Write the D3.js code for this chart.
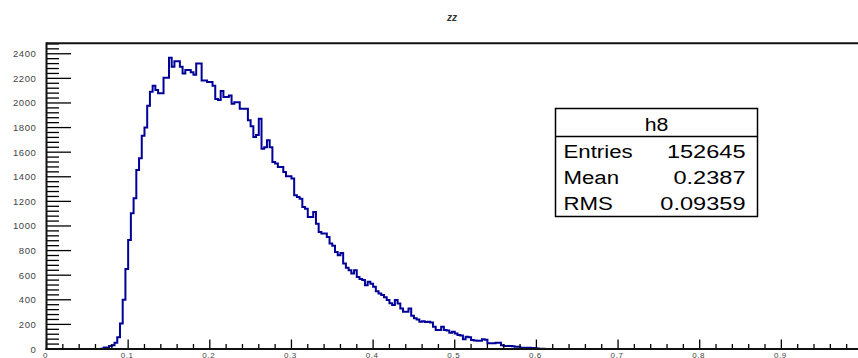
<!DOCTYPE html>
<html>
<head>
<meta charset="utf-8">
<script src="https://cdn.jsdelivr.net/npm/d3@7"></script>
<style>
html, body { margin: 0; padding: 0; background: #fff; }
svg { display: block; }
</style>
</head>
<body>
<svg id="chart" width="858" height="358"></svg>
<script>
// ---- data ----
const histTitle = "zz";
const histName = "h8";
const nBins = 300;            // bins over [0, 1]
const xMin = 0, xMax = 1;
const firstBin = 18;          // index of first listed bin (x = 0.06)
const counts = [
  0, 1, 3, 12, 12, 25, 30, 50, 95, 208,
  400, 651, 887, 1104, 1226, 1456, 1550, 1734, 1800, 1978,
  2091, 2140, 2105, 2078, 2078, 2205, 2205, 2367, 2294, 2340,
  2340, 2294, 2240, 2267, 2267, 2250, 2229, 2321, 2321, 2183,
  2183, 2170, 2170, 2140, 2033, 2025, 2097, 2048, 2048, 2060,
  1994, 2005, 2005, 1953, 1953, 1953, 1859, 1810, 1723, 1740,
  1872, 1628, 1640, 1696, 1641, 1520, 1507, 1480, 1480, 1439,
  1404, 1404, 1385, 1250, 1236, 1222, 1154, 1141, 1073, 1073,
  1114, 1019, 951, 938, 938, 911, 857, 840, 789, 762,
  780, 695, 660, 641, 613, 641, 586, 570, 560, 519,
  546, 530, 506, 470, 451, 438, 420, 398, 371, 357,
  398, 370, 330, 303, 303, 330, 270, 249, 240, 222,
  225, 220, 222, 215, 181, 154, 154, 181, 154, 150,
  132, 140, 125, 114, 110, 79, 100, 95, 73, 70,
  67, 67, 79, 75, 46, 46, 46, 50, 50, 30,
  24, 24, 24, 22, 19, 19, 11, 11, 11, 10,
  9, 8, 5, 3, 2, 1, 1, 0
];
const yMaxValue = 2485;
const yMajorTicks = [0, 200, 400, 600, 800, 1000, 1200, 1400, 1600, 1800, 2000, 2200, 2400];
const xMajorTicks = [0, 0.1, 0.2, 0.3, 0.4, 0.5, 0.6, 0.7, 0.8, 0.9];
const xTickLabels = ["0", "0.1", "0.2", "0.3", "0.4", "0.5", "0.6", "0.7", "0.8", "0.9"];
const statLabels = ["Entries", "Mean", "RMS"];
const statValues = ["152645", "0.2387", "0.09359"];

// ---- layout ----
const svg = d3.select("#chart");
const mLeft = 46.5, mRight = 863, mTop = 43.3, mBottom = 349;
const x = d3.scaleLinear().domain([xMin, xMax]).range([mLeft, mRight]);
const y = d3.scaleLinear().domain([0, yMaxValue]).range([mBottom, mTop]);
const binW = (xMax - xMin) / nBins;
const font = "'Liberation Sans', Arial, Helvetica, sans-serif";

// title
svg.append("text")
  .attr("x", 452).attr("y", 21)
  .attr("text-anchor", "middle")
  .attr("font-family", font)
  .attr("font-style", "italic")
  .attr("font-weight", "bold")
  .attr("font-size", 10)
  .attr("fill", "#333")
  .text(histTitle);

// histogram outline
const pts = counts.map((c, i) => ({ x: xMin + (firstBin + i) * binW, y: c }));
pts.push({ x: xMin + (firstBin + counts.length) * binW, y: counts[counts.length - 1] });
const line = d3.line().x(d => x(d.x)).y(d => y(d.y)).curve(d3.curveStepAfter);
svg.append("path")
  .attr("d", line(pts))
  .attr("fill", "none")
  .attr("stroke", "#000099")
  .attr("stroke-width", 2);

// y minor + major ticks
const yMinor = d3.range(0, yMaxValue + 1, 40);
svg.append("g").selectAll("line").data(yMinor).join("line")
  .attr("x1", mLeft).attr("x2", d => mLeft + (d % 200 === 0 ? 24.5 : 12.5))
  .attr("y1", d => y(d)).attr("y2", d => y(d))
  .attr("stroke", "#000").attr("stroke-width", 1.3);

svg.append("g").selectAll("text").data(yMajorTicks).join("text")
  .attr("x", 36.5).attr("y", d => y(d) + 3.5)
  .attr("text-anchor", "end")
  .attr("font-family", font)
  .attr("font-size", 9.5)
  .attr("letter-spacing", 0.6)
  .attr("fill", "#444")
  .text(d => d);

// x minor + major ticks
const xMinor = d3.range(0, 51).map(i => i * 0.02);
svg.append("g").selectAll("line").data(xMinor).join("line")
  .attr("x1", d => x(d)).attr("x2", d => x(d))
  .attr("y1", mBottom).attr("y2", (d, i) => mBottom - (i % 5 === 0 ? 9.5 : 5))
  .attr("stroke", "#000").attr("stroke-width", 1.3);

svg.append("g").selectAll("text").data(xMajorTicks).join("text")
  .attr("x", d => x(d) - 1).attr("y", 357.5)
  .attr("text-anchor", "middle")
  .attr("font-family", font)
  .attr("font-size", 8)
  .attr("letter-spacing", 0.6)
  .attr("fill", "#444")
  .text((d, i) => xTickLabels[i]);

// frame / axes
svg.append("line").attr("x1", mLeft).attr("x2", 858).attr("y1", mTop).attr("y2", mTop)
  .attr("stroke", "#111").attr("stroke-width", 2);
svg.append("line").attr("x1", mLeft).attr("x2", mLeft).attr("y1", mTop - 1).attr("y2", mBottom + 1)
  .attr("stroke", "#111").attr("stroke-width", 2);
svg.append("line").attr("x1", mLeft - 1).attr("x2", 858).attr("y1", mBottom).attr("y2", mBottom)
  .attr("stroke", "#111").attr("stroke-width", 2);

// stats box
const bx = 555.5, by = 108.5, bw = 202, bh = 108, hh = 28;
const sb = svg.append("g");
sb.append("rect").attr("x", bx).attr("y", by).attr("width", bw).attr("height", bh)
  .attr("fill", "#fff").attr("stroke", "#000").attr("stroke-width", 1.5);
sb.append("line").attr("x1", bx).attr("x2", bx + bw).attr("y1", by + hh).attr("y2", by + hh)
  .attr("stroke", "#000").attr("stroke-width", 1.5);
sb.append("text")
  .attr("transform", `translate(${bx + bw / 2},${by + 22}) scale(1.12,1)`)
  .attr("text-anchor", "middle").attr("font-family", font).attr("font-size", 19)
  .attr("fill", "#000").text(histName);
sb.selectAll("text.lab").data(statLabels).join("text").attr("class", "lab")
  .attr("transform", (d, i) => `translate(${bx + 8},${by + 49 + i * 26}) scale(1.17,1)`)
  .attr("font-family", font).attr("font-size", 19).attr("fill", "#000")
  .text(d => d);
sb.selectAll("text.val").data(statValues).join("text").attr("class", "val")
  .attr("transform", (d, i) => `translate(${bx + bw - 12},${by + 49 + i * 26}) scale(1.24,1)`)
  .attr("text-anchor", "end")
  .attr("font-family", font).attr("font-size", 19).attr("fill", "#000")
  .text(d => d);
</script>
</body>
</html>
